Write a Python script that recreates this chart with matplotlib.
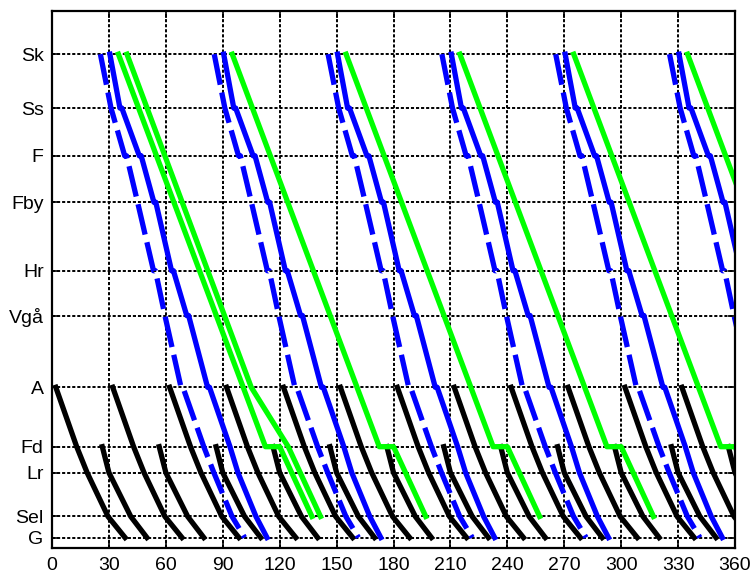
import numpy as np
import matplotlib
matplotlib.use('Agg')
import matplotlib.pyplot as plt

plt.rcParams['font.family'] = ['Liberation Sans', 'DejaVu Sans']

# stations along the line, km from G
stations = ['G', 'Sel', 'Lr', 'Fd', 'A', 'Vgå', 'Hr', 'Fby', 'F', 'Ss', 'Sk']
station_km = [0.0, 6.5, 20.0, 28.0, 46.3, 68.4, 82.2, 103.3, 117.6, 132.3, 148.9]
km = dict(zip(stations, station_km))

# running times (minutes after first departure) for each train type
express_stn = ['Sk', 'Ss', 'F', 'F', 'Fby', 'Hr', 'Hr', 'Vgå', 'A', 'A', 'Fd', 'Lr', 'Sel', 'G']
express_min = [0.0, 5.6, 12.8, 13.8, 19.6, 28.0, 29.0, 34.0, 42.5, 43.5, 54.5, 59.8, 69.4, 76.0]

regional_stn = ['Sk', 'Ss', 'Ss', 'F', 'F', 'Fby', 'Fby', 'Hr', 'Hr', 'Vgå', 'Vgå',
                'A', 'A', 'Fd', 'Lr', 'Sel', 'G']
regional_min = [0.0, 5.3, 6.3, 15.5, 16.5, 23.2, 24.2, 32.5, 33.5, 40.5, 41.5,
                51.5, 52.5, 63.3, 67.5, 77.0, 82.8]

freight_stn = ['Sk', 'Fd', 'Fd', 'Sel']
freight_min = [0.0, 77.5, 85.0, 102.0]

extra_stn = ['Sk', 'A', 'Fd', 'Sel']
extra_min = [0.0, 65.5, 85.0, 102.0]

commuter_a_stn = ['A', 'Fd', 'Lr', 'Sel', 'G']
commuter_a_min = [0.0, 11.0, 16.5, 27.5, 36.5]

commuter_fd_stn = ['Fd', 'Lr', 'Sel', 'G']
commuter_fd_min = [0.0, 3.5, 15.0, 23.5]

# departure times from the first station
express_dep = [25.5, 85.5, 145.5, 205.5, 265.5, 325.5]
regional_dep = [30.5, 90.5, 150.5, 210.5, 270.5, 330.5]
freight_dep = [35.0, 95.0, 155.0, 215.0, 275.0, 335.0]
extra_dep = [39.5]
commuter_a_dep = [2, 32, 62, 92, 122, 152, 182, 212, 242, 272, 302, 332]
commuter_fd_dep = [26.5, 56.5, 86.5, 116.5, 146.5, 176.5, 206.5, 236.5,
                   266.5, 296.5, 326.5, 356.5]

xticks = [0, 30, 60, 90, 120, 150, 180, 210, 240, 270, 300, 330, 360]

fig = plt.figure(figsize=(7.55, 5.76), dpi=100)
ax = fig.add_axes([0.0689, 0.0481, 0.9046, 0.9328])


def draw(deps, stn, mins, **kw):
    y = [km[s] for s in stn]
    for t0 in deps:
        ax.plot(t0 + np.array(mins), y, **kw)


draw(commuter_a_dep, commuter_a_stn, commuter_a_min, color='k', lw=3.8)
draw(commuter_fd_dep, commuter_fd_stn, commuter_fd_min, color='k', lw=3.8)
draw(freight_dep, freight_stn, freight_min, color=(0, 1, 0), lw=3.8)
draw(extra_dep, extra_stn, extra_min, color=(0, 1, 0), lw=3.8)
draw(express_dep, express_stn, express_min, color=(0, 0, 1), lw=3.8,
     linestyle=(0, (5.9, 1.5)))
draw(regional_dep, regional_stn, regional_min, color=(0, 0, 1), lw=3.8)

ax.set_xlim(0, 360)
ax.set_ylim(-3.3, 162.2)
ax.set_xticks(xticks)
ax.set_xticklabels([str(v) for v in xticks])
ax.set_yticks(station_km)
ax.set_yticklabels(stations)
ax.grid(True, color='k', linestyle=(0, (1.6, 1.0)), lw=1.4)
ax.set_axisbelow(True)
ax.tick_params(direction='in', length=5, width=1.2, labelsize=14,
               top=True, right=True, pad=6)
ax.tick_params(axis='y', pad=6)
for sp in ax.spines.values():
    sp.set_linewidth(1.6)

fig.savefig('out.png', dpi=100)
